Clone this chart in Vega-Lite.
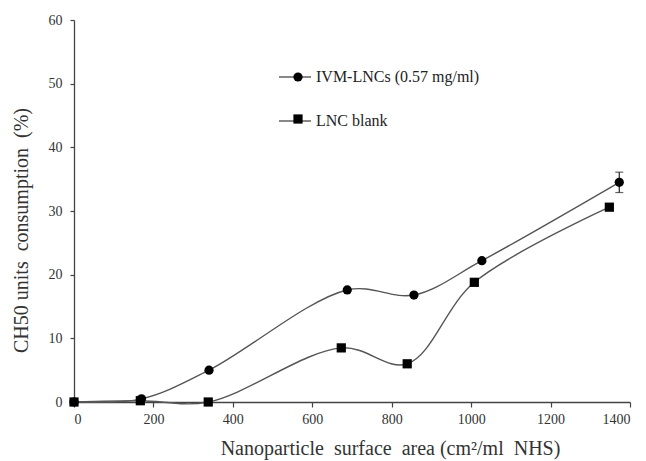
{
  "$schema": "https://vega.github.io/schema/vega-lite/v6.json",
  "width": 556,
  "height": 382,
  "autosize": {"type": "none"},
  "padding": {"left": 74, "top": 20, "right": 16, "bottom": 59},
  "background": "white",
  "config": {
    "font": "Liberation Serif",
    "view": {"stroke": null},
    "axis": {
      "grid": false,
      "domainColor": "#444",
      "domainWidth": 1.3,
      "tickColor": "#444",
      "tickWidth": 1.2,
      "tickSize": 5,
      "labelFont": "Liberation Serif",
      "labelFontSize": 14,
      "labelColor": "#333",
      "titleFont": "Liberation Serif",
      "titleFontSize": 20,
      "titleFontWeight": "normal",
      "titleColor": "#333"
    },
    "legend": {
      "labelFont": "Liberation Serif",
      "labelFontSize": 16,
      "labelColor": "#222",
      "labelLimit": 400
    }
  },
  "datasets": {
    "series": [
      {"series": "IVM-LNCs (0.57 mg/ml)", "x": 0, "y": 0},
      {"series": "IVM-LNCs (0.57 mg/ml)", "x": 170, "y": 0.5},
      {"series": "IVM-LNCs (0.57 mg/ml)", "x": 340, "y": 5.0},
      {"series": "IVM-LNCs (0.57 mg/ml)", "x": 688, "y": 17.6},
      {"series": "IVM-LNCs (0.57 mg/ml)", "x": 856, "y": 16.8},
      {"series": "IVM-LNCs (0.57 mg/ml)", "x": 1027, "y": 22.2},
      {"series": "IVM-LNCs (0.57 mg/ml)", "x": 1373, "y": 34.5},
      {"series": "LNC blank", "x": 0, "y": 0},
      {"series": "LNC blank", "x": 167, "y": 0.2},
      {"series": "LNC blank", "x": 338, "y": 0},
      {"series": "LNC blank", "x": 673, "y": 8.5},
      {"series": "LNC blank", "x": 839, "y": 6.0},
      {"series": "LNC blank", "x": 1008, "y": 18.8},
      {"series": "LNC blank", "x": 1348, "y": 30.6}
    ],
    "err": [
      {"x": 1373, "y": 32.9, "y2": 36.1}
    ]
  },
  "layer": [
    {
      "data": {"name": "series"},
      "mark": {"type": "line", "interpolate": "catmull-rom", "strokeWidth": 1.4},
      "encoding": {
        "x": {
          "field": "x", "type": "quantitative",
          "scale": {"domain": [0, 1400], "nice": false, "zero": true},
          "axis": {
            "values": [0, 200, 400, 600, 800, 1000, 1200, 1400],
            "format": "d",
            "labelFont": "Liberation Serif",
            "labelPadding": 5,
            "title": "Nanoparticle\u00a0 surface\u00a0 area (cm²/ml\u00a0 NHS)",
            "titlePadding": 12,
            "titleX": 316,
            "titleAlign": "center"
          }
        },
        "y": {
          "field": "y", "type": "quantitative",
          "scale": {"domain": [0, 60], "nice": false},
          "axis": {
            "values": [0, 10, 20, 30, 40, 50, 60],
            "labelFont": "Liberation Serif",
            "tickSize": 4,
            "labelPadding": 8,
            "title": "CH50 units\u00a0 consumption\u00a0 (%)",
            "titlePadding": 17,
            "titleY": 210,
            "titleAlign": "center"
          }
        },
        "color": {
          "field": "series", "type": "nominal",
          "scale": {"range": ["#555555", "#555555"]},
          "legend": {
            "title": null,
            "orient": "none",
            "legendX": 204,
            "legendY": 40,
            "symbolSize": 1024,
            "symbolStrokeWidth": 1.4,
            "symbolStrokeColor": "#444",
            "rowPadding": 19,
            "labelOffset": 4,
            "padding": 0
          }
        }
      }
    },
    {
      "data": {"name": "err"},
      "mark": {"type": "rule", "color": "#222", "strokeWidth": 1.2},
      "encoding": {
        "x": {"field": "x", "type": "quantitative"},
        "y": {"field": "y", "type": "quantitative"},
        "y2": {"field": "y2"}
      }
    },
    {
      "data": {"name": "err"},
      "mark": {"type": "tick", "orient": "horizontal", "color": "#222", "size": 8, "thickness": 1.2},
      "encoding": {
        "x": {"field": "x", "type": "quantitative"},
        "y": {"field": "y", "type": "quantitative"}
      }
    },
    {
      "data": {"name": "err"},
      "mark": {"type": "tick", "orient": "horizontal", "color": "#222", "size": 8, "thickness": 1.2},
      "encoding": {
        "x": {"field": "x", "type": "quantitative"},
        "y": {"field": "y2", "type": "quantitative"}
      }
    },
    {
      "data": {"name": "series"},
      "mark": {"type": "point", "filled": true, "color": "#000", "opacity": 1, "size": 85},
      "encoding": {
        "x": {"field": "x", "type": "quantitative"},
        "y": {"field": "y", "type": "quantitative"},
        "shape": {
          "field": "series", "type": "nominal",
          "scale": {"domain": ["IVM-LNCs (0.57 mg/ml)", "LNC blank"], "range": ["circle", "square"]},
          "legend": {
            "title": null,
            "orient": "none",
            "legendX": 216,
            "legendY": 49,
            "symbolSize": 85,
            "symbolFillColor": "#000",
            "rowPadding": 26,
            "labelExpr": "''",
            "labelOpacity": 0,
            "padding": 0
          }
        }
      }
    }
  ]
}
